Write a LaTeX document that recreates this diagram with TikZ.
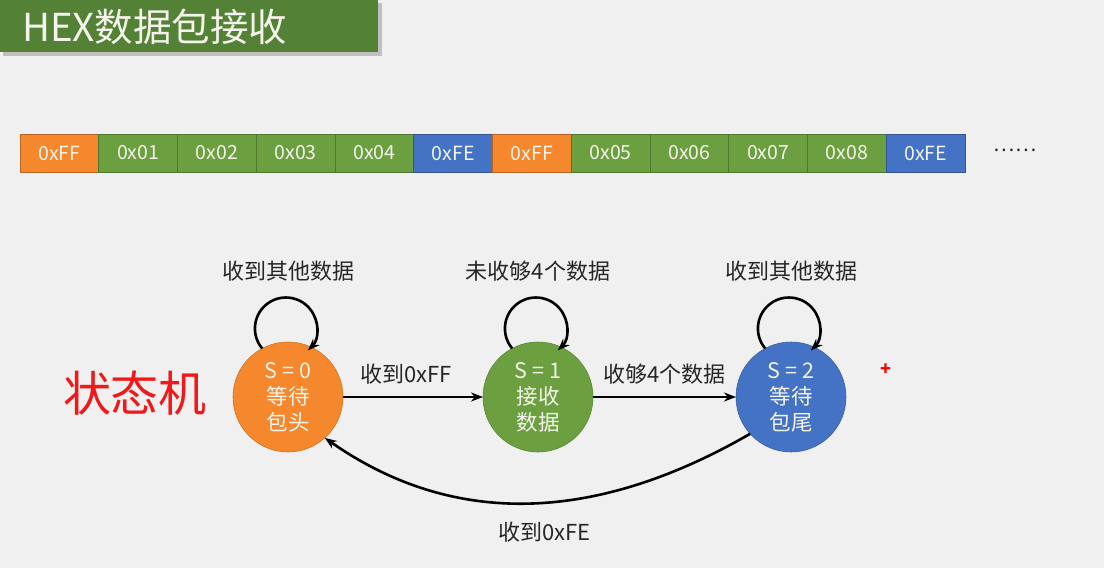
\documentclass[tikz,border=0pt]{standalone}
\usepackage{fontspec}
\setmainfont{Noto Sans CJK SC}
\usetikzlibrary{arrows.meta,calc}
\definecolor{bgc}{HTML}{F0F0F0}
\definecolor{tgreen}{HTML}{538135}
\definecolor{corange}{HTML}{F5882C}
\definecolor{cgreen}{HTML}{6B9F40}
\definecolor{cblue}{HTML}{4472C4}
\definecolor{ctext}{HTML}{F4F4EC}
\definecolor{ltext}{HTML}{262626}
\definecolor{fsmred}{HTML}{F01818}
\begin{document}
\begin{tikzpicture}[x=1pt,y=1pt,
  every node/.style={inner sep=0pt,outer sep=0pt},
  cell/.style={draw=#1!75!black,fill=#1,line width=0.8pt,minimum width=78.75pt,minimum height=38pt,text=ctext,font=\fontsize{19.5}{20}\selectfont},
  stnode/.style={circle,fill=#1,draw=#1!85!black,line width=0.6pt,minimum size=110pt,text=ctext,align=center,font=\fontsize{21.5}{26}\selectfont},
  lbl/.style={text=ltext,font=\fontsize{22}{24}\selectfont},
  arr/.style={-{Stealth[length=12pt,width=9pt]},line width=2.6pt,black}]
\useasboundingbox (0,0) rectangle (1104,-568);
\fill[bgc] (0,0) rectangle (1104,-568);
% title
\fill[black!25] (3,-3) rectangle (382,-56);
\fill[tgreen] (0,0) rectangle (378,-52);
\node[anchor=west,text=ctext,font=\fontsize{38.5}{40}\selectfont] (title) at (22,-27) {HEX数据包接收};
% byte strip
\foreach \t/\col [count=\i] in {0xFF/corange,0x01/cgreen,0x02/cgreen,0x03/cgreen,0x04/cgreen,0xFE/cblue,0xFF/corange,0x05/cgreen,0x06/cgreen,0x07/cgreen,0x08/cgreen,0xFE/cblue}{
  \node[cell=\col] (c\i) at ({20+(\i-0.5)*78.75},-153) {\t};
}
\node[text=ltext,font=\fontsize{20}{20}\selectfont] (dots) at (1015,-150) {……};
% state machine
\node[text=fsmred,font=\fontsize{48}{48}\selectfont] (fsm) at (135,-393) {状态机};
\node[stnode=corange] (s0) at (288,-397) {S = 0\\等待\\包头};
\node[stnode=cgreen] (s1) at (538,-397) {S = 1\\接收\\数据};
\node[stnode=cblue] (s2) at (791,-397) {S = 2\\等待\\包尾};
\node[text=red,font=\fontsize{18}{18}\selectfont\bfseries] (plus) at (886,-370) {+};
% transitions
\draw[arr] (s0) -- node[lbl,pos=0.45,yshift=23pt] {收到0xFF} (s1);
\draw[arr] (s1) -- node[lbl,pos=0.5,yshift=23pt] {收够4个数据} (s2);
\draw[arr] (s2.222) to[out=210,in=-35] node[lbl,pos=0.5,xshift=10pt,yshift=-29pt] {收到0xFE} (s0.-48);
% self loops
\foreach \s/\t in {s0/收到其他数据,s1/未收够4个数据,s2/收到其他数据}{
  \draw[arr] (\s.118) arc[start angle=220,end angle=-45,radius=31];
  \node[lbl] (l\s) at ([yshift=71pt]\s.north) {\t};
}
\end{tikzpicture}
\end{document}
